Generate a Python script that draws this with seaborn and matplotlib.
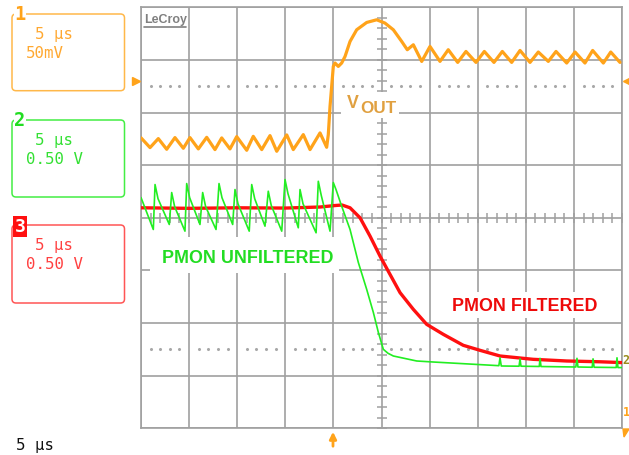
import numpy as np
import pandas as pd
import matplotlib
matplotlib.use('Agg')
import matplotlib.pyplot as plt
import seaborn as sns
from matplotlib.patches import FancyBboxPatch, Rectangle, Polygon

# Zeitachse in µs (Trigger bei 0), Amplituden in Bildschirm-Divisionen
orange_t = [-20.0, -19.06, -18.20, -17.33, -16.47, -15.60, -14.91, -14.04, -13.17, -12.31,
            -11.61, -10.75, -10.05, -9.01, -8.33, -7.45, -6.59, -5.89, -4.85, -4.17,
            -3.13, -2.43, -1.39, -0.70,
            -0.53, -0.35, -0.18, -0.01, 0.17, 0.51, 0.86, 1.21, 1.73, 2.42,
            3.46, 4.50, 5.36, 6.23, 7.10, 7.68, 8.31, 9.18,
            10.04, 11.08, 11.94, 12.92, 13.78, 14.82, 15.69, 16.69, 17.56, 18.53,
            19.40, 20.44, 21.30, 22.34, 23.14, 24.25, 25.12, 26.15, 26.95, 28.06,
            28.83, 29.79]
orange_v = [1.52, 1.334, 1.505, 1.302, 1.524, 1.321, 1.524, 1.309, 1.529, 1.296,
            1.518, 1.309, 1.543, 1.283, 1.548, 1.296, 1.562, 1.264, 1.575, 1.296,
            1.581, 1.296, 1.613, 1.34,
            1.581, 2.118, 2.497, 2.877, 2.941, 2.877, 2.941, 3.066, 3.351, 3.573,
            3.712, 3.763, 3.700, 3.573, 3.351, 3.194, 3.288, 2.971,
            3.256, 2.972, 3.194, 2.953, 3.161, 2.953, 3.161, 2.953, 3.161, 2.953,
            3.180, 2.953, 3.150, 2.972, 3.161, 2.941, 3.150, 2.941, 3.180, 2.941,
            3.150, 2.953]

green_t = [-20.0,
           -18.72, -18.54, -18.23, -17.06, -16.81, -16.50, -15.43, -15.25, -14.94,
           -13.87, -13.59, -13.28, -12.20, -11.89, -11.58, -10.47, -10.23, -9.92,
           -8.75, -8.49, -8.18, -7.11, -6.77, -6.46, -5.37, -5.03, -4.72,
           -3.65, -3.47, -3.16, -1.80, -1.57, -1.26, -0.35, -0.01,
           0.27, 0.86, 1.73, 2.59, 3.46, 4.15, 4.67, 5.19, 5.68, 6.23,
           8.66, 10.35, 13.68, 17.2, 17.32, 17.45, 19.3, 19.4, 19.5, 21.4, 21.48, 21.58,
           25.2, 25.32, 25.42, 26.9, 26.99, 27.1, 29.4, 29.48, 29.58, 29.95]
green_v = [0.385,
           -0.222, 0.632, 0.362, -0.127, 0.480, 0.21, -0.254, 0.651, 0.381,
           -0.127, 0.480, 0.21, -0.222, 0.651, 0.381, -0.127, 0.537, 0.267,
           -0.254, 0.632, 0.362, -0.159, 0.505, 0.235, -0.254, 0.727, 0.457,
           -0.190, 0.537, 0.267, -0.285, 0.694, 0.424, -0.254, 0.670,
           0.537, 0.220, -0.222, -0.848, -1.360, -1.797, -2.176, -2.499, -2.575, -2.626,
           -2.721, -2.740, -2.774, -2.81, -2.66, -2.816, -2.82, -2.68, -2.82, -2.825, -2.67, -2.826,
           -2.835, -2.67, -2.835, -2.84, -2.68, -2.84, -2.845, -2.66, -2.846, -2.846]

red_t = [-20.0, -15.0, -10.0, -5.0, -1.39, 0.17, 0.90, 1.73, 2.77, 3.81, 4.85, 5.89,
         6.93, 8.31, 9.70, 11.42, 13.50, 15.24, 17.32, 20.75, 24.25, 27.73, 29.95]
red_v = [0.19, 0.18, 0.19, 0.185, 0.205, 0.233, 0.243, 0.19, 0.0, -0.349, -0.729, -1.077,
         -1.423, -1.740, -2.025, -2.214, -2.423, -2.518, -2.626, -2.689, -2.721, -2.736, -2.751]

ch_numbers = ['1', '2', '3']
ch_timebase = ['5 µs', '5 µs', '5 µs']
ch_scale = ['50mV', '0.50 V', '0.50 V']

c_orange = '#ffa31a'
c_green = '#22ee22'
c_red = '#ff1010'
grid_c = '#a0a0a0'

sns.set_style('white')
plt.rcParams['font.family'] = ['Liberation Sans', 'DejaVu Sans']

fig = plt.figure(figsize=(6.29, 4.55), dpi=100)
ax = fig.add_axes([141 / 629, 1 - 428.3 / 455, 481 / 629, 421 / 455])

# Raster
for t in range(-20, 31, 5):
    ax.axvline(t, color=grid_c, lw=1.2, zorder=1)
for v in range(-4, 5):
    ax.axhline(v, color=grid_c, lw=1.2, zorder=1)

# Teilstriche auf den Mittelachsen
ty = np.arange(-4, 4.01, 0.2)
ax.plot(np.full(len(ty), 5.0), ty, ls='none', marker='_', ms=7, mew=1.1, color=grid_c, zorder=1)
tx = np.arange(-20, 30.01, 1.0)
ax.plot(tx, np.zeros(len(tx)), ls='none', marker='|', ms=7, mew=1.1, color=grid_c, zorder=1)

# gepunktete Linien
dx = np.array([t for t in range(-19, 30) if t % 5 != 0], dtype=float)
for lev in (2.5, -2.5):
    ax.plot(dx, np.full(len(dx), lev), ls='none', marker='o', ms=1.2, color='#a8a8a8', zorder=1)

sns.lineplot(data=pd.DataFrame({'t': orange_t, 'v': orange_v}), x='t', y='v', color=c_orange,
             lw=2.3, sort=False, estimator=None, ax=ax, zorder=3)
sns.lineplot(data=pd.DataFrame({'t': red_t, 'v': red_v}), x='t', y='v', color=c_red,
             lw=2.4, sort=False, estimator=None, ax=ax, zorder=3)
sns.lineplot(data=pd.DataFrame({'t': green_t, 'v': green_v}), x='t', y='v', color=c_green,
             lw=1.2, sort=False, estimator=None, ax=ax, zorder=4)

ax.set_xlim(-20, 30)
ax.set_ylim(-4, 4)
ax.set(xlabel='', ylabel='', xticks=[], yticks=[])
for s in ax.spines.values():
    s.set_color(grid_c)
    s.set_linewidth(1.2)

# Beschriftungen in Pixelkoordinaten
ov = fig.add_axes([0, 0, 1, 1], zorder=5)
ov.set_xlim(0, 629)
ov.set_ylim(455, 0)
ov.axis('off')
ov.patch.set_alpha(0)

mono = 'DejaVu Sans Mono'
boxes = [(14, 90.7, c_orange, '#ffb84a', '#ffa830', 39.3, 58.3),
         (120, 197, '#22dd22', '#44ee44', '#33e033', 145, 164),
         (225, 303, c_red, '#ff5555', '#ff4040', 250, 269.3)]
for i, (y0, y1, numc, edgec, txtc, b1, b2) in enumerate(boxes):
    ov.add_patch(FancyBboxPatch((12, y0), 112.5, y1 - y0, boxstyle='round,pad=0,rounding_size=4',
                                fc='none', ec=edgec, lw=1.1))
    ov.text(35, b1, ch_timebase[i], family=mono, fontsize=11.3, color=txtc, va='baseline')
    ov.text(26, b2, ch_scale[i], family=mono, fontsize=11.3, color=txtc, va='baseline')
    if i < 2:
        ov.text(20, y0, ch_numbers[i], family=mono, fontweight='bold', fontsize=13.5, color=numc,
                ha='center', va='center', bbox=dict(fc='white', ec='none', pad=0.6))
    else:
        ov.text(20, y0 + 1.5, ch_numbers[i], family=mono, fontweight='bold', fontsize=13, color='white',
                ha='center', va='center', bbox=dict(fc=c_red, ec='none', pad=0.8))

ov.text(16, 450, '5 µs', family=mono, fontsize=11.3, color='#111111', va='baseline')

# LeCroy
ov.text(144, 23.5, 'LeCroy', fontsize=9, fontweight='bold', color='#808080', va='baseline')
ov.plot([144, 186], [26.5, 26.5], color='#808080', lw=1.2)

# Marker
ov.plot([136], [81], marker='>', ms=6, color=c_orange, ls='none')
ov.plot([626.5], [81], marker='<', ms=6, color=c_orange, ls='none')
ov.text(622.5, 360, '2', family=mono, fontweight='bold', fontsize=8.5, color='#9a8c1c', va='center')
ov.text(622.5, 413, '1', family=mono, fontweight='bold', fontsize=8.5, color=c_orange, va='center')
ov.add_patch(Polygon([(623, 429), (629, 429), (624, 437)], closed=True, color=c_orange))
ov.annotate('', xy=(333, 429), xytext=(333, 449),
            arrowprops=dict(arrowstyle='-|>', color=c_orange, lw=2, mutation_scale=10))

# Beschriftungen der Kurven
ov.add_patch(Rectangle((341, 92), 58, 26, fc='white', ec='none'))
ov.text(347, 107.5, 'V', fontsize=12.8, fontweight='bold', color='#e0a040', va='baseline')
ov.text(360.5, 113, 'OUT', fontsize=12.3, fontweight='bold', color='#e0a040', va='baseline')

ov.add_patch(Rectangle((150, 237), 189, 36, fc='white', ec='none'))
ov.text(162, 263, 'PMON UNFILTERED', fontsize=12.9, fontweight='bold', color='#22dd22', va='baseline')

ov.add_patch(Rectangle((445, 292), 160, 26, fc='white', ec='none'))
ov.text(452, 311, 'PMON FILTERED', fontsize=12.9, fontweight='bold', color='#ee0a0a', va='baseline')

fig.savefig('out.png', dpi=100)
